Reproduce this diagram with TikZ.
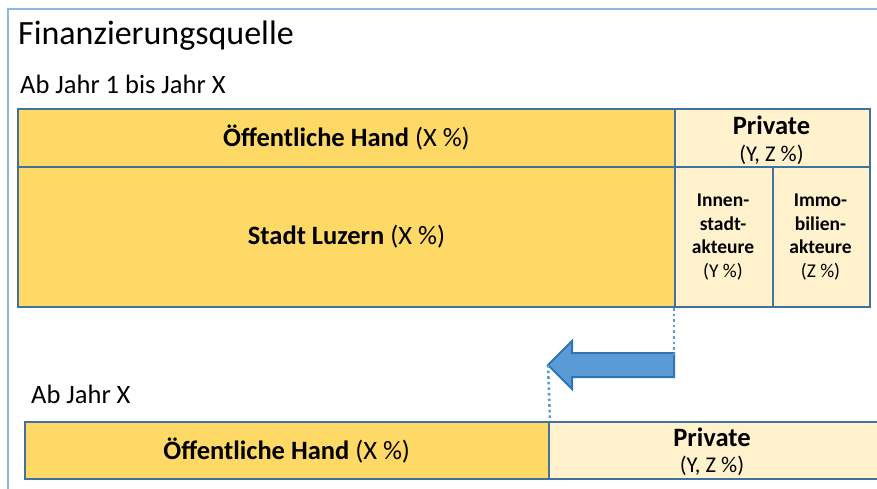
\documentclass[tikz,border=0pt]{standalone}
\usepackage{fontspec}
\setmainfont{Carlito}
\definecolor{gold}{HTML}{FFD966}
\definecolor{lightgold}{HTML}{FFF2CC}
\definecolor{tblline}{HTML}{41719C}
\definecolor{frameblue}{HTML}{8FB7E0}
\definecolor{arrowfill}{HTML}{5B9BD5}
\definecolor{arrowline}{HTML}{2E75B6}
\tikzset{
  cell/.style={draw=tblline, line width=2pt, inner sep=0pt, anchor=north west},
  darkcell/.style={cell, fill=gold},
  lightcell/.style={cell, fill=lightgold},
  lbl/.style={inner sep=0pt, text=black},
  dots/.style={draw=arrowfill, line width=2.6pt, dash pattern=on 2.6pt off 3pt}
}
\newcommand{\fs}[2]{\fontsize{#1}{#2}\selectfont}
\begin{document}
\begin{tikzpicture}[x=1pt,y=-1pt]
\useasboundingbox (0,0) rectangle (877,489);
\begin{scope}
\clip (0,0) rectangle (877,489);
% outer frame
\draw[frameblue, line width=2pt] (8,9) rectangle (890,500);
% title texts
\node[lbl, anchor=base west] (title) at (18,45) {\fs{34}{38}Finanzierungsquelle};
\node[lbl, anchor=base west] (sub1) at (20,94) {\fs{26.5}{30}Ab Jahr 1 bis Jahr X};
% top table
\node[darkcell, minimum width=657pt, minimum height=58pt] (oh) at (17,108) {};
\node[lightcell, minimum width=195pt, minimum height=58pt] (pr) at (674,108) {};
\node[darkcell, minimum width=657pt, minimum height=140pt] (sl) at (17,166) {};
\node[lightcell, minimum width=98pt, minimum height=140pt] (inn) at (674,166) {};
\node[lightcell, minimum width=97pt, minimum height=140pt] (imm) at (772,166) {};
\node[lbl, font=\fs{26.5}{30}] at (oh.center) {\textbf{Öffentliche Hand} (X \%)};
\node[lbl, font=\fs{26.5}{30}] at (771.5,125) {\textbf{Private}};
\node[lbl, font=\fs{22.5}{26}] at (771.5,155) {(Y, Z \%)};
\node[lbl, font=\fs{26.5}{30}] at (sl.center) {\textbf{Stadt Luzern} (X \%)};
\node[lbl, align=center, font=\fs{19.5}{23.5}] at (723,237) {\textbf{Innen-}\\\textbf{stadt-}\\\textbf{akteure}\\(Y \%)};
\node[lbl, align=center, font=\fs{19.5}{23.5}] at (820.5,237) {\textbf{Immo-}\\\textbf{bilien-}\\\textbf{akteure}\\(Z \%)};
% bottom
\node[lbl, anchor=base west, font=\fs{26.5}{30}] (sub2) at (31,403) {Ab Jahr X};
\node[darkcell, minimum width=524.5pt, minimum height=57pt] (oh2) at (23.5,421) {};
\node[lightcell, minimum width=340pt, minimum height=57pt] (pr2) at (548,421) {};
\node[lbl, font=\fs{26.5}{30}] at (oh2.center) {\textbf{Öffentliche Hand} (X \%)};
\node[lbl, font=\fs{26.5}{30}] at (712,437) {\textbf{Private}};
\node[lbl, font=\fs{22.5}{26}] at (712,466) {(Y, Z \%)};
% arrow
\coordinate (astart) at (674,357);
\coordinate (tip) at (548,365);
\draw[arrowline, fill=arrowfill, line width=2pt, line join=miter]
  (674,353) -- (572,353) -- (572,341) -- (tip) -- (572,389) -- (572,377) -- (674,377) -- cycle;
\draw[dots] (inn.south west) -- (astart);
\draw[dots] (tip) -- (oh2.north east);
\end{scope}
\end{tikzpicture}
\end{document}
